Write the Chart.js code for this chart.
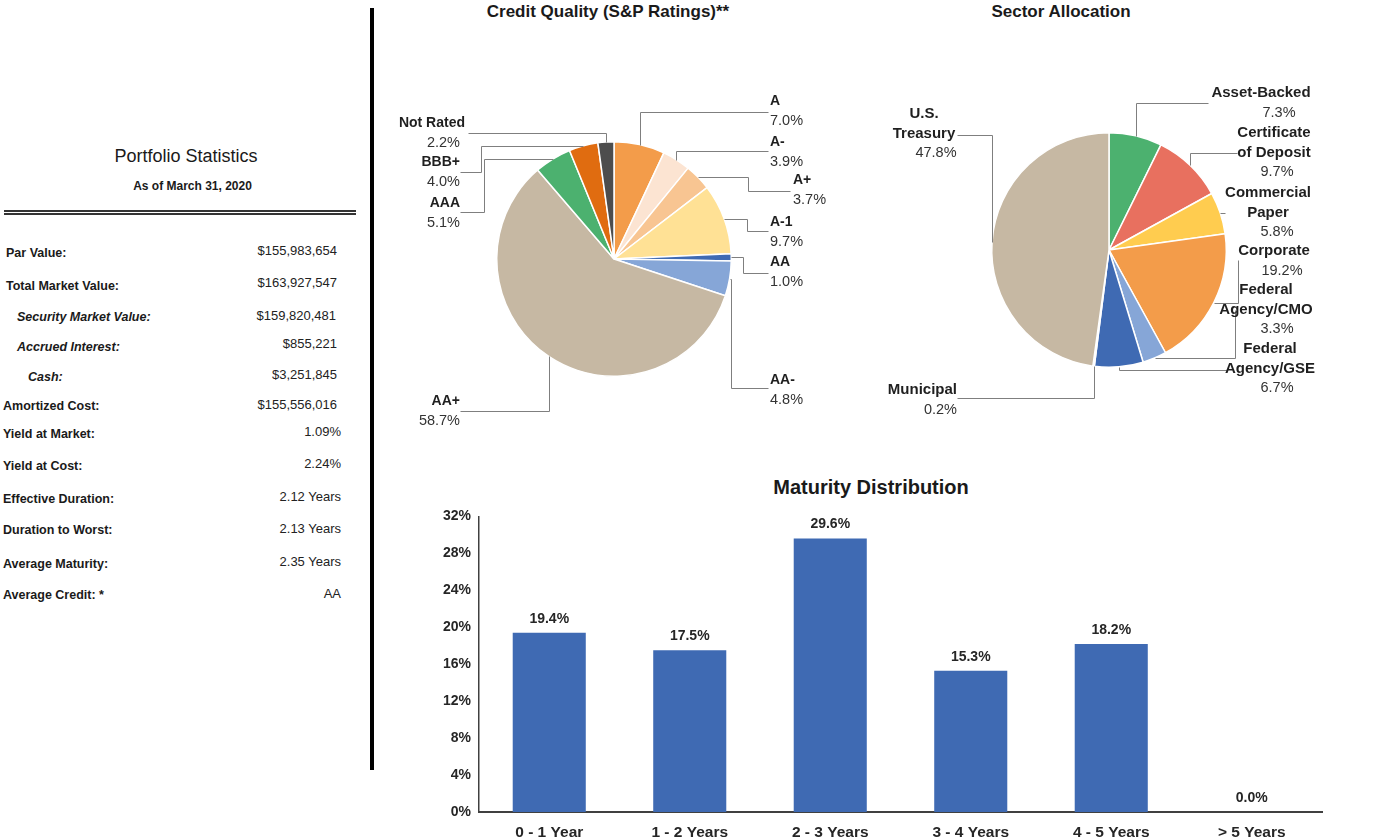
<!DOCTYPE html>
<html>
<head>
<meta charset="utf-8">
<title>Portfolio Summary</title>
<script src="https://cdn.jsdelivr.net/npm/chart.js@4.4.1/dist/chart.umd.min.js"></script>
<style>
  html, body { margin: 0; padding: 0; background: #fff; }
  body { width: 1386px; height: 840px; position: relative; overflow: hidden;
         font-family: "Liberation Sans", Arial, sans-serif; color: #1a1a1a; }
  .abs { position: absolute; white-space: nowrap; }
  .row { height: 16px; line-height: 16px; }
  .lab { font-weight: bold; font-size: 12.5px; }
  .val { font-size: 13px; left: 0; text-align: right; color: #222; }
  .ital { font-style: italic; }
  .ttl { transform: translateX(-50%); font-weight: bold; }
  canvas { position: absolute; }
</style>
</head>
<body>

<!-- Portfolio statistics panel -->
<div class="abs" style="left:0;width:372px;top:145px;line-height:22px;text-align:center;font-size:18px;">Portfolio Statistics</div>
<div class="abs" style="left:0;width:385px;top:178px;line-height:16px;text-align:center;font-size:12px;font-weight:bold;">As of March 31, 2020</div>
<div class="abs" style="left:4px;width:352px;top:210px;height:2px;background:#333;"></div>
<div class="abs" style="left:4px;width:352px;top:213px;height:2px;background:#333;"></div>

<div class="abs row lab" style="left:6px;top:245px;">Par Value:</div>
<div class="abs row val" style="width:337px;top:243px;">$155,983,654</div>
<div class="abs row lab" style="left:6px;top:278px;">Total Market Value:</div>
<div class="abs row val" style="width:337px;top:275px;">$163,927,547</div>
<div class="abs row lab ital" style="left:17px;top:309px;">Security Market Value:</div>
<div class="abs row val" style="width:336px;top:308px;">$159,820,481</div>
<div class="abs row lab ital" style="left:17px;top:339px;">Accrued Interest:</div>
<div class="abs row val" style="width:337px;top:336px;">$855,221</div>
<div class="abs row lab ital" style="left:28px;top:369px;">Cash:</div>
<div class="abs row val" style="width:337px;top:367px;">$3,251,845</div>
<div class="abs row lab" style="left:3px;top:398px;">Amortized Cost:</div>
<div class="abs row val" style="width:337px;top:397px;">$155,556,016</div>
<div class="abs row lab" style="left:3px;top:426px;">Yield at Market:</div>
<div class="abs row val" style="width:341px;top:424px;">1.09%</div>
<div class="abs row lab" style="left:3px;top:458px;">Yield at Cost:</div>
<div class="abs row val" style="width:341px;top:456px;">2.24%</div>
<div class="abs row lab" style="left:3px;top:491px;">Effective Duration:</div>
<div class="abs row val" style="width:341px;top:489px;">2.12 Years</div>
<div class="abs row lab" style="left:3px;top:522px;">Duration to Worst:</div>
<div class="abs row val" style="width:341px;top:521px;">2.13 Years</div>
<div class="abs row lab" style="left:3px;top:556px;">Average Maturity:</div>
<div class="abs row val" style="width:341px;top:554px;">2.35 Years</div>
<div class="abs row lab" style="left:3px;top:587px;">Average Credit: *</div>
<div class="abs row val" style="width:341px;top:586px;">AA</div>

<div class="abs" style="left:370px;top:8px;width:4px;height:762px;background:#000;"></div>

<!-- chart titles -->
<div class="abs ttl" style="left:608px;top:2px;font-size:17px;line-height:20px;">Credit Quality (S&amp;P Ratings)**</div>
<div class="abs ttl" style="left:1061px;top:2px;font-size:17px;line-height:20px;">Sector Allocation</div>
<div class="abs ttl" style="left:871px;top:476px;font-size:20px;line-height:23px;">Maturity Distribution</div>

<canvas id="creditChart" width="480" height="440" style="left:380px;top:0;"></canvas>
<canvas id="sectorChart" width="516" height="440" style="left:870px;top:0;"></canvas>
<canvas id="maturityChart" width="920" height="340" style="left:420px;top:500px;"></canvas>

<script>
// ---- data ----
const creditLabels = ['A', 'A-', 'A+', 'A-1', 'AA', 'AA-', 'AA+', 'AAA', 'BBB+', 'Not Rated'];
const creditValues = [7.0, 3.9, 3.7, 9.7, 1.0, 4.8, 58.7, 5.1, 4.0, 2.2];

const sectorLabels = ['Asset-Backed', 'Certificate of Deposit', 'Commercial Paper', 'Corporate',
                      'Federal Agency/CMO', 'Federal Agency/GSE', 'Municipal', 'U.S. Treasury'];
const sectorValues = [7.3, 9.7, 5.8, 19.2, 3.3, 6.7, 0.2, 47.8];

const maturityLabels = ['0 - 1 Year', '1 - 2 Years', '2 - 3 Years', '3 - 4 Years', '4 - 5 Years', '> 5 Years'];
const maturityValues = [19.4, 17.5, 29.6, 15.3, 18.2, 0.0];
const maturityAxisMax = 32;
const maturityAxisStep = 4;

// ---- styles ----
const FONT = '"Liberation Sans", Arial, sans-serif';
const creditColors = ['#F39C4A', '#FCE4D2', '#F8C592', '#FFE195', '#3F6AB3', '#86A6D7',
                      '#C6B8A3', '#4CB16F', '#E06C10', '#4D4D4D'];
const sectorColors = ['#4CB16F', '#E8705F', '#FFCC4F', '#F39C4A', '#86A6D7', '#3F6AB3',
                      '#D9D9D9', '#C6B8A3'];

// callout placement, offsets from the pie centre (text pos, leader end, optional elbow x)
const creditCallouts = [
  { align: 'left',  tx: 156,  ty: -158, lx: 154,  ly: -147 },
  { align: 'left',  tx: 156,  ty: -117, lx: 154,  ly: -108 },
  { align: 'left',  tx: 179,  ty: -79,  lx: 176,  ly: -68, ex: 134 },
  { align: 'left',  tx: 156,  ty: -37,  lx: 154,  ly: -28, ex: 133 },
  { align: 'left',  tx: 156,  ty: 3,    lx: 154,  ly: 14,  ex: 129 },
  { align: 'left',  tx: 156,  ty: 121,  lx: 154,  ly: 129, ex: 117 },
  { align: 'right', tx: -154, ty: 142,  lx: -154, ly: 152 },
  { align: 'right', tx: -154, ty: -56,  lx: -154, ly: -47, ex: -130 },
  { align: 'right', tx: -154, ty: -97,  lx: -154, ly: -87, ex: -133 },
  { align: 'right', tx: -149, ty: -136, px: -154, lx: -146, ly: -126 }
];
const sectorCallouts = [
  { align: 'center', tx: 152,  ty: -157, px: 170,  lx: 99,   ly: -147 },
  { align: 'center', tx: 165,  ty: -117, px: 168,  lx: 128,  ly: -97 },
  { align: 'center', tx: 159,  ty: -57,  px: 168,  lx: 116,  ly: -37 },
  { align: 'center', tx: 165,  ty: 1,    px: 173,  lx: 129,  ly: 10,  ex: 129 },
  { align: 'center', tx: 157,  ty: 40,   px: 168,  lx: 126,  ly: 60,  ex: 126 },
  { align: 'center', tx: 161,  ty: 99,   px: 168,  lx: 118,  ly: 120 },
  { align: 'right',  tx: -152, ty: 140,  lx: -152, ly: 148 },
  { align: 'center', tx: -185, ty: -136, px: -173, lx: -152, ly: -115 }
];

// draws elbow leader lines and name / percent labels for each slice
function makeCallouts(layout, nameSize, pctSize) {
  return {
    id: 'callouts',
    afterDatasetsDraw(chart) {
      const ctx = chart.ctx;
      const meta = chart.getDatasetMeta(0);
      const values = chart.data.datasets[0].data;
      const px = v => Math.round(v) + 0.5;
      ctx.save();
      ctx.strokeStyle = '#7f7f7f';
      ctx.lineWidth = 1;
      meta.data.forEach((arc, i) => {
        const s = layout[i];
        const p = arc.getProps(['x', 'y', 'startAngle', 'endAngle', 'outerRadius'], true);
        const mid = (p.startAngle + p.endAngle) / 2;
        const sx = p.x + Math.cos(mid) * p.outerRadius;
        const sy = p.y + Math.sin(mid) * p.outerRadius;
        const ly = p.y + s.ly;
        ctx.beginPath();
        ctx.moveTo(px(sx), px(sy));
        if (s.ex !== undefined) {
          ctx.lineTo(px(p.x + s.ex), px(sy));
          ctx.lineTo(px(p.x + s.ex), px(ly));
        } else {
          ctx.lineTo(px(sx), px(ly));
        }
        ctx.lineTo(px(p.x + s.lx), px(ly));
        ctx.stroke();

        const name = chart.data.labels[i];
        const cut = name.indexOf(' ');
        const lines = (name.length > 12 && cut > 0) ? [name.slice(0, cut), name.slice(cut + 1)] : [name];
        ctx.textAlign = s.align;
        ctx.textBaseline = 'middle';
        ctx.fillStyle = '#1f1f1f';
        ctx.font = 'bold ' + nameSize + 'px ' + FONT;
        lines.forEach((t, k) => ctx.fillText(t, p.x + s.tx, p.y + s.ty + k * 19.5));
        ctx.fillStyle = '#333';
        ctx.font = pctSize + 'px ' + FONT;
        ctx.fillText(values[i].toFixed(1) + '%', p.x + (s.px !== undefined ? s.px : s.tx),
                     p.y + s.ty + lines.length * 19.5);
      });
      ctx.restore();
    }
  };
}

function pieConfig(labels, values, colors, padding, plugin) {
  return {
    type: 'pie',
    data: {
      labels: labels,
      datasets: [{
        data: values,
        backgroundColor: colors,
        borderColor: '#ffffff',
        borderWidth: 1.5,
        hoverOffset: 0
      }]
    },
    options: {
      responsive: false,
      animation: false,
      events: [],
      layout: { padding: padding },
      plugins: { legend: { display: false }, tooltip: { enabled: false } }
    },
    plugins: [plugin]
  };
}

new Chart(document.getElementById('creditChart'),
  pieConfig(creditLabels, creditValues, creditColors,
            { left: 116, right: 128, top: 141, bottom: 63 },
            makeCallouts(creditCallouts, 14, 14.5)));

new Chart(document.getElementById('sectorChart'),
  pieConfig(sectorLabels, sectorValues, sectorColors,
            { left: 121, right: 159, top: 132, bottom: 72 },
            makeCallouts(sectorCallouts, 15, 14.5)));

// value labels above the bars
const barValueLabels = {
  id: 'barValueLabels',
  afterDatasetsDraw(chart) {
    const ctx = chart.ctx;
    const meta = chart.getDatasetMeta(0);
    const values = chart.data.datasets[0].data;
    ctx.save();
    ctx.font = 'bold 14px ' + FONT;
    ctx.fillStyle = '#262626';
    ctx.textAlign = 'center';
    ctx.textBaseline = 'middle';
    meta.data.forEach((bar, i) => {
      ctx.fillText(values[i].toFixed(1) + '%', bar.x, bar.y - 14);
    });
    ctx.restore();
  }
};

new Chart(document.getElementById('maturityChart'), {
  type: 'bar',
  data: {
    labels: maturityLabels,
    datasets: [{
      data: maturityValues,
      backgroundColor: '#3F6AB3',
      borderWidth: 0,
      barPercentage: 0.52,
      categoryPercentage: 1
    }]
  },
  options: {
    responsive: false,
    animation: false,
    events: [],
    layout: { padding: { left: 0, right: 18, top: 15, bottom: 0 } },
    plugins: { legend: { display: false }, tooltip: { enabled: false } },
    scales: {
      x: {
        grid: { display: false, drawTicks: false },
        border: { display: true, color: '#404040', width: 2 },
        ticks: { padding: 11, color: '#262626', maxRotation: 0, autoSkip: false,
                 font: { family: FONT, size: 15.5, weight: 'bold' } },
        afterFit: scale => { scale.height = 28; }
      },
      y: {
        min: 0,
        max: maturityAxisMax,
        grid: { display: false, drawTicks: false },
        border: { display: true, color: '#404040', width: 1.5 },
        ticks: { stepSize: maturityAxisStep, padding: 8, color: '#262626',
                 font: { family: FONT, size: 14, weight: 'bold' },
                 callback: v => v + '%' },
        afterFit: scale => { scale.width = 59; }
      }
    }
  },
  plugins: [barValueLabels]
});
</script>
</body>
</html>
